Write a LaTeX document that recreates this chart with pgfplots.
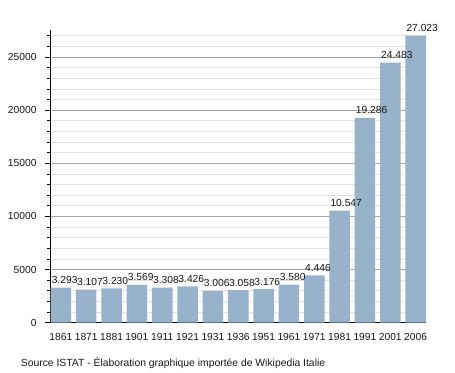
\documentclass[border=0pt]{standalone}
\usepackage{pgfplots}
\pgfplotsset{compat=1.18}
\usepackage{pgfplotstable}
\usepackage{fontspec}
\setmainfont{Liberation Sans}
\definecolor{barblue}{HTML}{98B2CB}
\definecolor{majgrid}{HTML}{A8A8A8}
\definecolor{mingrid}{HTML}{E2E2E2}
\pgfplotstableread{
x y lab
0 3293 3.293
1 3107 3.107
2 3230 3.230
3 3569 3.569
4 3308 3.308
5 3426 3.426
6 3006 3.006
7 3058 3.058
8 3176 3.176
9 3580 3.580
10 4446 4.446
11 10547 10.547
12 19286 19.286
13 24483 24.483
14 27023 27.023
}\popdata
\begin{document}
\begin{tikzpicture}
\useasboundingbox (0,0) rectangle (455bp,373bp);
\begin{axis}[
  at={(50bp,50.3bp)}, anchor=south west,
  scale only axis, width=376bp, height=292.7bp,
  xmin=-0.43, xmax=14.41, ymin=0, ymax=27550,
  axis x line*=bottom, axis y line*=left,
  axis line style={-, black, line width=0.8bp},
  xtick=data,
  xticklabels={1861,1871,1881,1901,1911,1921,1931,1936,1951,1961,1971,1981,1991,2001,2006},
  xtick style={draw=none},
  ytick={0,5000,10000,15000,20000,25000},
  minor ytick={1000,2000,3000,4000,6000,7000,8000,9000,11000,12000,13000,14000,16000,17000,18000,19000,21000,22000,23000,24000,26000,27000},
  scaled y ticks=false,
  yticklabel={\pgfmathprintnumber[fixed,1000 sep={}]{\tick}},
  /pgf/number format/assume math mode=true,
  tick align=outside,
  major tick length=5bp, minor tick length=3bp,
  ytick style={black, line width=0.8bp},
  ymajorgrids, yminorgrids,
  major grid style={majgrid, line width=0.8bp},
  minor grid style={mingrid, line width=0.8bp},
  tick label style={font=\fontsize{10.3}{12}\selectfont, text=black!90},
  yticklabel style={anchor=east, inner sep=0pt, xshift=-8.3bp},
  xticklabel style={anchor=north, inner sep=0pt, yshift=-5bp},
  clip=false,
]
\addplot[ybar, bar width=0.81, fill=barblue, draw=none,
  point meta=explicit symbolic,
  nodes near coords={\pgfplotspointmeta},
  nodes near coords style={anchor=south west, inner sep=0pt, xshift=-9.3bp, yshift=3.5bp, font=\fontsize{10.3}{12}\selectfont, text=black!90},
] table[x=x, y=y, meta=lab] {\popdata};
\end{axis}
\node[anchor=base west, inner sep=0pt, font=\fontsize{10.4}{12}\selectfont, text=black!90] at (20.7bp,6.3bp) {Source ISTAT - Élaboration graphique importée de Wikipedia Italie};
\end{tikzpicture}
\end{document}
